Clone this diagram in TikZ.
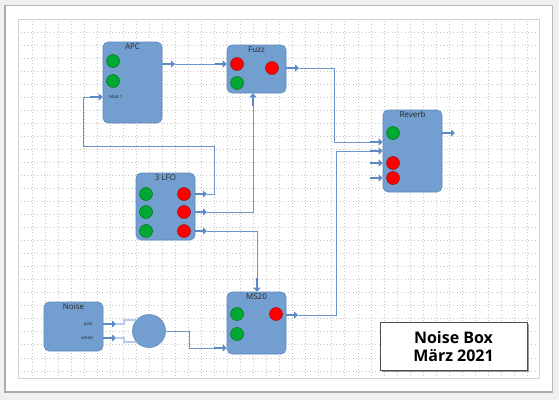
\documentclass[tikz,border=0pt]{standalone}
\usepackage{fontspec}
\setmainfont{Open Sans}
\usetikzlibrary{arrows.meta,positioning,shadows}
\definecolor{boxfill}{HTML}{729FCF}
\definecolor{boxedge}{HTML}{5C88C0}
\definecolor{wireblue}{HTML}{6A94CA}
\definecolor{portblue}{HTML}{5B8AC6}
\definecolor{palewire}{HTML}{B7CCE8}
\definecolor{jackgreen}{HTML}{00A933}
\definecolor{jackred}{HTML}{FF0000}
\begin{document}
\begin{tikzpicture}[x=1pt,y=-1pt,
    box/.style = {draw=boxedge, fill=boxfill, rounded corners=5pt, line width=0.6pt},
    boxtitle/.style = {font=\fontsize{8}{9}\selectfont, text=black!85, inner sep=1pt},
    smalltext/.style = {font=\fontsize{4.5}{5}\selectfont, text=black!85, inner sep=0pt},
    jackg/.style = {circle, draw=green!40!black, fill=jackgreen, minimum size=13pt, inner sep=0pt, line width=0.4pt},
    jackr/.style = {circle, draw=red!60!black, fill=jackred, minimum size=13pt, inner sep=0pt, line width=0.4pt},
    port/.style = {portblue, line width=2.8pt, -{Triangle[length=4pt,width=7pt]}},
    wire/.style = {wireblue, line width=0.8pt},
    pale/.style = {palewire, line width=1.6pt},
    griddot/.style = {gray!45, line width=0.5pt, dash pattern=on 0.5pt off 2.75pt}]
    \useasboundingbox (0,0) rectangle (559,400);
    % page and grid
    \fill[gray!12] (0,0) rectangle (559,400);
    \draw[gray!55, fill=white] (5,5) rectangle (552,392);
    \draw[gray!65, line width=1.5pt] (5,5) -- (5,392) -- (552,392);
    \draw[gray!35] (18,19) rectangle (539,378);
    \foreach \i in {0,...,38}
        \draw[griddot] (32+13.03*\i,21) -- (32+13.03*\i,376);
    \foreach \j in {0,...,26}
        \draw[griddot] (21,32+13.03*\j) -- (537,32+13.03*\j);
    % modules
    \node[box, minimum width=59pt, minimum height=81pt] (apc) at (132.5,82.5) {};
    \node[boxtitle, below=1pt of apc.north] (apct) {APC};
    \node[box, minimum width=59pt, minimum height=48pt] (fuzz) at (256.5,69) {};
    \node[boxtitle, below=1pt of fuzz.north] (fuzzt) {Fuzz};
    \node[box, minimum width=59pt, minimum height=67pt] (lfo) at (165.5,206.5) {};
    \node[boxtitle, below=1pt of lfo.north] (lfot) {3 LFO};
    \node[box, minimum width=59pt, minimum height=82pt] (reverb) at (412.5,151) {};
    \node[boxtitle, below=1pt of reverb.north] (reverbt) {Reverb};
    \node[box, minimum width=59pt, minimum height=62pt] (ms20) at (256.5,323) {};
    \node[boxtitle, below=1pt of ms20.north] (ms20t) {MS20};
    \node[box, minimum width=59pt, minimum height=49pt] (noise) at (73.5,326.5) {};
    \node[boxtitle, below=1pt of noise.north] (noiset) {Noise};
    \node[circle, draw=boxedge, fill=boxfill, minimum size=33pt, line width=0.6pt] (mix) at (149,331) {};
    % jacks
    \node[jackg] (apc1) at (113,61) {};
    \node[jackg] (apc2) at (113,81) {};
    \node[smalltext, anchor=west] (mod) at (109,97) {Mod 1};
    \node[jackr] (fuzz1) at (237,64) {};
    \node[jackr] (fuzz2) at (272,68) {};
    \node[jackg] (fuzz3) at (237,83) {};
    \foreach \n/\y in {1/194,2/212,3/231} {
        \node[jackg] (lfog\n) at (146,\y) {};
        \node[jackr] (lfor\n) at (184,\y) {};
    }
    \node[jackg] (rev1) at (393,133) {};
    \node[jackr] (rev2) at (393,163) {};
    \node[jackr] (rev3) at (393,178) {};
    \node[jackg] (ms1) at (237,314) {};
    \node[jackg] (ms2) at (237,334) {};
    \node[jackr] (ms3) at (276,314) {};
    \node[smalltext, anchor=east] (pink) at (93,324) {pink};
    \node[smalltext, anchor=east] (white) at (93,338) {white};
    % port ends
    \coordinate (apcout) at (175,64);
    \coordinate (apcin) at (90,97);
    \coordinate (fuzzin) at (215,64);
    \coordinate (fuzzin2) at (253,106);
    \coordinate (fuzzout) at (299,68);
    \foreach \n/\y in {1/194,2/212,3/231}
        \coordinate (lfoout\n) at (207,\y);
    \foreach \n/\y in {1/142,2/151,3/163,4/178}
        \coordinate (revin\n) at (370,\y);
    \coordinate (revout) at (455,133);
    \coordinate (ms20in) at (257,278);
    \coordinate (ms20in2) at (214,348);
    \coordinate (ms20out) at (298,315);
    \coordinate (pinkout) at (116,324);
    \coordinate (whiteout) at (116,338);
    % wires
    \draw[wire] (apcout) -- (fuzzin);
    \draw[wire] (fuzzout) -| (334,142) -- (revin1);
    \draw[wire] (lfoout1) -- ++(7,0) |- (83,146) |- (apcin);
    \draw[wire] (lfoout2) -| (fuzzin2);
    \draw[wire] (lfoout3) -| (ms20in);
    \draw[wire] (ms20out) -| (336,151) -- (revin2);
    \draw[pale] (pinkout) -- ++(8,0) |- (mix.140);
    \draw[pale] (whiteout) -- ++(8,0) |- (mix.220);
    \draw[wire] (mix) -- (189,331) |- (ms20in2);
    % ports
    \draw[port] (apc.east |- apcout) -- (apcout);
    \draw[port] (apcin) -- (apc.west |- apcin);
    \draw[port] (fuzzin) -- (fuzz.west |- fuzzin);
    \draw[port] (fuzzin2) -- (fuzz.south -| fuzzin2);
    \draw[port] (fuzz.east |- fuzzout) -- (fuzzout);
    \foreach \n in {1,2,3}
        \draw[port] (lfo.east |- lfoout\n) -- (lfoout\n);
    \foreach \n in {1,2,3,4}
        \draw[port] (revin\n) -- (reverb.west |- revin\n);
    \draw[port] (reverb.east |- revout) -- (revout);
    \draw[port] (ms20in) -- (ms20.north -| ms20in);
    \draw[port] (ms20in2) -- (ms20.west |- ms20in2);
    \draw[port] (ms20.east |- ms20out) -- (ms20out);
    \draw[port] (noise.east |- pinkout) -- (pinkout);
    \draw[port] (noise.east |- whiteout) -- (whiteout);
    % title
    \node[draw=black!70, fill=white, drop shadow={shadow xshift=2pt, shadow yshift=-2pt, opacity=0.7, fill=black!55},
          minimum width=147pt, minimum height=48pt, align=center,
          font=\fontsize{16}{18}\selectfont\bfseries] (titlebox) at (453.5,346) {Noise Box\\März 2021};
\end{tikzpicture}
\end{document}
